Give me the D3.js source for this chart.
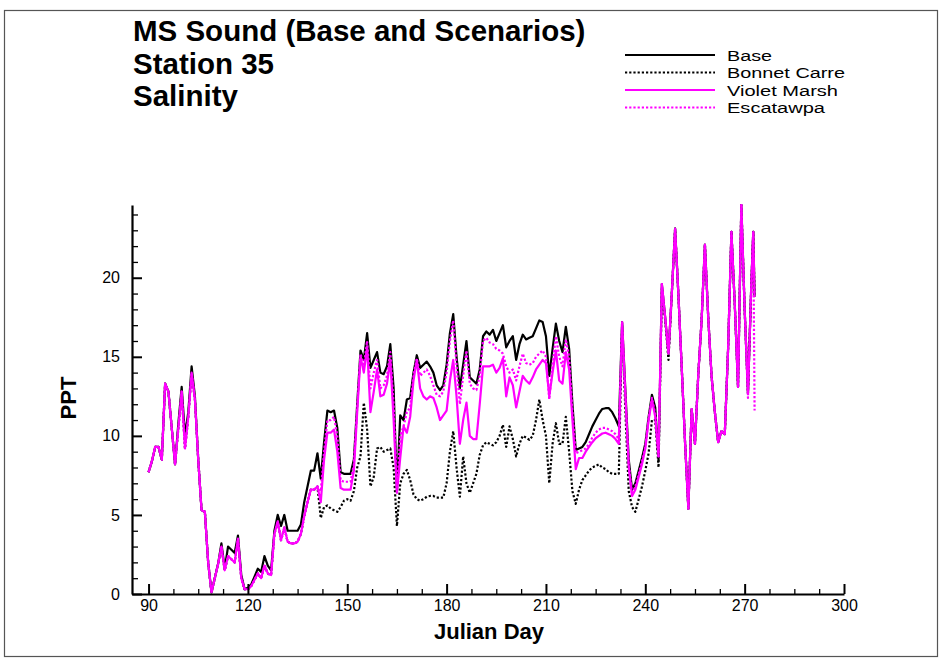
<!DOCTYPE html>
<html><head><meta charset="utf-8">
<script src="https://cdn.jsdelivr.net/npm/d3@7/dist/d3.min.js"></script>
<style>body{margin:0;background:#fff} text{font-family:"Liberation Sans",Arial,sans-serif}</style>
</head><body><svg id="c" width="945" height="659"></svg>
<script>
const days = [
 90,91,92,93,94,95,96,97,98,99,
 100,101,102,103,104,105,106,107,108,109,
 110,111,112,113,114,115,116,117,118,119,
 120,121,122,123,124,125,126,127,128,129,
 130,131,132,133,134,135,136,137,138,139,
 140,141,142,143,144,145,146,147,148,149,
 150,151,152,153,154,155,156,157,158,159,
 160,161,162,163,164,165,166,167,168,169,
 170,171,172,173,174,175,176,177,178,179,
 180,181,182,183,184,185,186,187,188,189,
 190,191,192,193,194,195,196,197,198,199,
 200,201,202,203,204,205,206,207,208,209,
 210,211,212,213,214,215,216,217,218,219,
 220,221,222,223,224,225,226,227,228,229,
 230,231,232,233,234,235,236,237,238,239,
 240,241,242,243,244,245,246,247,248,249,
 250,251,252,253,254,255,256,257,258,259,
 260,261,262,263,264,265,266,267,268,269,
 270,271,272,272.6,273];

const base = [
 7.7,8.4,9.3,9.3,8.5,13.3,12.8,10.5,8.2,10.8,
 13.1,10.0,11.5,14.4,12.5,8.5,5.3,5.2,2.0,0.1,
 1.0,1.9,3.2,1.6,3.0,2.8,2.6,3.7,1.2,0.3,
 0.4,0.6,1.1,1.6,1.4,2.4,1.8,1.5,4.0,5.0,
 4.3,5.0,4.0,4.0,4.0,4.0,4.4,5.8,6.8,7.8,
 7.8,8.9,7.3,9.6,11.6,11.5,11.6,10.5,7.7,7.6,
 7.6,7.6,8.5,12.0,15.4,14.8,16.5,14.3,14.8,15.3,
 14.0,13.9,14.4,15.8,13.0,6.6,11.3,11.0,12.3,12.4,
 14.0,15.1,14.3,14.5,14.7,14.4,14.0,13.2,12.9,13.2,
 14.5,16.5,17.7,15.0,13.0,14.5,16.0,13.7,13.5,13.3,
 14.2,16.3,16.6,16.4,16.7,16.0,16.5,17.0,15.6,16.0,
 16.3,14.8,15.8,16.4,16.1,16.2,16.3,16.8,17.3,17.2,
 16.3,13.8,15.5,17.1,16.0,15.3,16.9,15.5,12.0,9.1,
 9.2,9.3,9.6,10.1,10.6,11.0,11.4,11.7,11.75,11.75,
 11.5,11.1,10.6,17.2,12.8,8.5,6.6,7.0,7.8,8.6,
 9.5,11.2,12.6,11.8,8.5,19.6,17.5,15.2,19.0,23.1,
 18.9,14.3,9.6,5.4,11.7,9.5,13.9,17.3,22.1,17.5,
 13.8,11.5,9.6,10.3,10.1,15.5,22.9,18.4,13.1,24.6,
 18.0,12.7,19.5,22.9,18.8];

const bonnetCarre = [
 7.7,8.4,9.3,9.3,8.5,13.3,12.8,10.5,8.2,10.5,
 12.8,9.2,11.2,14.0,12.3,8.5,5.3,5.2,2.0,0.1,
 1.0,1.9,3.0,1.5,2.4,2.2,2.0,3.5,1.0,0.3,
 0.3,0.5,0.9,1.3,1.0,1.8,1.3,1.2,3.8,4.6,
 3.4,4.2,3.3,3.2,3.2,3.3,3.8,4.9,5.8,6.6,
 6.6,6.8,4.8,5.5,5.6,5.4,5.3,5.2,5.5,5.9,
 6.0,5.9,6.5,8.0,8.7,12.1,10.4,6.8,7.4,9.2,
 9.3,9.0,9.1,9.2,8.0,4.3,7.0,7.6,7.85,7.2,
 6.3,6.0,5.9,6.0,6.15,6.2,6.2,6.1,6.1,6.1,
 7.0,9.0,10.3,8.0,6.15,8.7,7.0,6.4,7.0,7.6,
 8.8,9.4,9.6,9.5,9.4,9.6,10.0,10.7,9.3,10.6,
 9.8,8.7,9.5,10.0,9.9,9.75,10.0,11.0,12.3,11.0,
 10.0,7.0,9.5,10.8,9.5,9.5,11.2,9.0,6.5,5.7,
 6.6,7.2,7.5,7.8,8.0,8.1,8.2,8.0,7.9,7.7,
 7.6,7.6,7.6,17.0,11.5,6.5,5.5,5.2,6.0,6.8,
 7.8,8.9,11.0,11.0,8.0,19.3,17.3,14.8,19.0,23.1,
 18.9,14.3,9.6,5.4,11.7,9.5,13.9,17.3,22.1,17.5,
 13.8,11.5,9.6,10.3,10.1,15.5,22.9,18.4,13.1,24.6,
 18.0,12.7,19.5,22.9,18.8];

const violetMarsh = [
 7.7,8.4,9.3,9.3,8.5,13.3,12.8,10.5,8.2,10.5,
 12.8,9.2,11.2,14.0,12.3,8.5,5.3,5.2,2.0,0.1,
 1.0,1.9,3.0,1.5,2.4,2.2,2.0,3.5,1.0,0.3,
 0.3,0.5,0.9,1.3,1.0,1.8,1.3,1.2,3.8,4.6,
 3.4,4.2,3.3,3.2,3.2,3.3,3.8,4.9,5.8,6.6,
 6.6,6.8,5.8,8.5,10.2,10.2,10.4,9.0,6.7,6.6,
 6.6,6.6,7.8,11.5,15.0,14.0,15.6,11.5,12.8,14.2,
 12.5,12.6,13.3,14.8,11.0,6.4,8.6,10.6,10.2,11.2,
 13.5,14.8,13.0,12.5,12.3,12.5,12.4,11.8,11.0,11.3,
 11.6,13.5,14.8,12.5,9.5,11.0,12.1,10.0,9.8,9.8,
 12.0,14.4,14.4,14.4,14.5,14.0,14.3,14.9,12.5,13.7,
 13.2,11.8,12.8,13.8,13.5,13.3,13.7,14.2,14.5,14.8,
 14.6,12.5,14.0,15.4,13.5,13.3,15.3,14.2,11.0,7.9,
 8.6,8.6,9.0,9.3,9.6,9.85,10.0,10.15,10.2,10.1,
 10.0,9.8,9.5,17.2,12.5,8.0,6.2,6.6,7.4,8.2,
 9.2,11.0,12.3,11.2,8.7,19.6,17.5,15.2,19.0,23.1,
 18.9,14.3,9.6,5.4,11.7,9.5,13.9,17.3,22.1,17.5,
 13.8,11.5,9.6,10.3,10.1,15.5,22.9,18.4,13.1,24.6,
 18.0,12.7,19.5,22.9,18.8];

const escatawpa = [
 7.7,8.4,9.3,9.3,8.5,13.3,12.8,10.5,8.2,10.5,
 12.8,9.2,11.2,14.0,12.3,8.5,5.3,5.2,2.0,0.1,
 1.0,1.9,3.0,1.5,2.4,2.2,2.0,3.5,1.0,0.3,
 0.3,0.5,0.9,1.3,1.0,1.8,1.3,1.2,3.8,4.6,
 3.4,4.2,3.3,3.2,3.2,3.3,3.8,4.9,5.8,6.6,
 6.6,6.8,6.5,9.0,11.0,11.0,11.2,10.0,7.2,7.1,
 7.1,7.1,8.2,11.8,15.2,14.4,16.0,13.0,14.0,14.8,
 13.0,13.2,13.8,15.3,12.0,6.5,10.0,10.6,11.5,11.8,
 13.8,14.9,13.8,14.0,14.2,13.8,13.2,12.6,12.5,12.8,
 14.0,16.0,17.3,14.5,12.0,13.8,15.4,13.3,13.0,12.9,
 13.8,16.0,16.2,15.9,15.8,15.5,15.4,15.2,14.4,14.0,
 14.2,13.5,14.4,15.2,14.6,14.5,14.6,15.0,15.2,15.4,
 15.0,12.3,14.5,16.3,15.0,14.4,16.1,15.0,11.5,8.9,
 9.0,9.1,9.2,9.5,9.9,10.2,10.4,10.5,10.5,10.4,
 10.3,10.1,9.8,17.2,12.6,8.2,6.3,6.8,7.6,8.4,
 9.3,11.1,12.4,11.4,8.6,19.6,17.5,15.2,19.0,23.1,
 18.9,14.3,9.6,5.4,11.7,9.5,13.9,17.3,22.1,17.5,
 13.8,11.5,9.6,10.3,10.1,15.5,22.9,18.4,13.1,24.6,
 18.0,12.4,19.5,22.9,11.6];

const xTicks = [90,120,150,180,210,240,270,300];
const yTicks = [0,5,10,15,20];
const titleLines = ["MS Sound (Base and Scenarios)","Station 35","Salinity"];
const seriesNames = ["Base","Bonnet Carre","Violet Marsh","Escatawpa"];
const seriesColors = ["#000000","#000000","#ff00ff","#ff00ff"];
const seriesDash = [null,"2.2,2",null,"2.2,2"];
const seriesData = [base,bonnetCarre,violetMarsh,escatawpa];
const legendWidths = [45,118,111,98];

const svg = d3.select("#c");
svg.append("rect").attr("x",0).attr("y",0).attr("width",945).attr("height",659).attr("fill","#fff");
svg.append("rect").attr("x",4.5).attr("y",10.5).attr("width",933).attr("height",646)
  .attr("fill","#fff").attr("stroke","#555").attr("stroke-width",1.2);

const x = d3.scaleLinear().domain([85,300]).range([132,844]);
const y = d3.scaleLinear().domain([0,24.6]).range([594,205]);

const xMinor = d3.range(90,300.1,7.5).filter(d=>d%30!==0);
const yMinor = d3.range(1,25,1).filter(d=>d%5!==0);
svg.append("g").attr("transform","translate(0,594)")
  .call(d3.axisBottom(x).tickValues(xMinor).tickSizeInner(-5).tickSizeOuter(0).tickFormat(""))
  .call(g=>g.select(".domain").remove())
  .call(g=>g.selectAll("line").attr("stroke","#000").attr("stroke-width",1.3));
svg.append("g").attr("transform","translate(132,0)")
  .call(d3.axisLeft(y).tickValues(yMinor).tickSizeInner(-6).tickSizeOuter(0).tickFormat(""))
  .call(g=>g.select(".domain").remove())
  .call(g=>g.selectAll("line").attr("stroke","#000").attr("stroke-width",1.3));

const line = d3.line().x((d,i)=>x(days[i])).y(d=>y(d));
seriesData.forEach((s,k)=>{
  const p = svg.append("path").datum(s).attr("d",line)
    .attr("fill","none").attr("stroke",seriesColors[k]).attr("stroke-width",2.2)
    .attr("stroke-linejoin","round");
  if(seriesDash[k]) p.attr("stroke-dasharray",seriesDash[k]);
});

const gx = svg.append("g").attr("transform","translate(0,594)")
  .call(d3.axisBottom(x).tickValues(xTicks).tickSizeInner(-10).tickSizeOuter(0).tickPadding(6));
gx.select(".domain").attr("stroke","#000").attr("stroke-width",2.2);
gx.selectAll("line").attr("stroke","#000").attr("stroke-width",2);
gx.selectAll("text").attr("font-size",16).attr("fill","#000")
  .style("font-family","'Liberation Sans',Arial,sans-serif");
const gy = svg.append("g").attr("transform","translate(132,0)")
  .call(d3.axisLeft(y).tickValues(yTicks).tickSizeInner(-10).tickSizeOuter(0).tickPadding(12));
gy.select(".domain").attr("stroke","#000").attr("stroke-width",2.2);
gy.selectAll("line").attr("stroke","#000").attr("stroke-width",2);
gy.selectAll("text").attr("font-size",16).attr("fill","#000")
  .style("font-family","'Liberation Sans',Arial,sans-serif");

svg.append("text").attr("x",489).attr("y",639).attr("text-anchor","middle")
  .attr("font-size",22).attr("font-weight","bold").text("Julian Day");
svg.append("text").attr("transform","translate(76,398) rotate(-90)").attr("text-anchor","middle")
  .attr("font-size",22).attr("font-weight","bold").text("PPT");

titleLines.forEach((t,i)=>{
  svg.append("text").attr("x",133).attr("y",41+i*32.5).attr("font-size",29.5)
    .attr("font-weight","bold").text(t);
});

seriesNames.forEach((n,i)=>{
  const ly = 55 + i*17.5;
  const l = svg.append("line").attr("x1",625).attr("x2",715).attr("y1",ly).attr("y2",ly)
    .attr("stroke",seriesColors[i]).attr("stroke-width",2);
  if(seriesDash[i]) l.attr("stroke-dasharray",seriesDash[i]);
  svg.append("text").attr("x",727).attr("y",ly+5.5).attr("font-size",15.5)
    .attr("textLength",legendWidths[i]).attr("lengthAdjust","spacingAndGlyphs").text(n);
});
</script></body></html>
